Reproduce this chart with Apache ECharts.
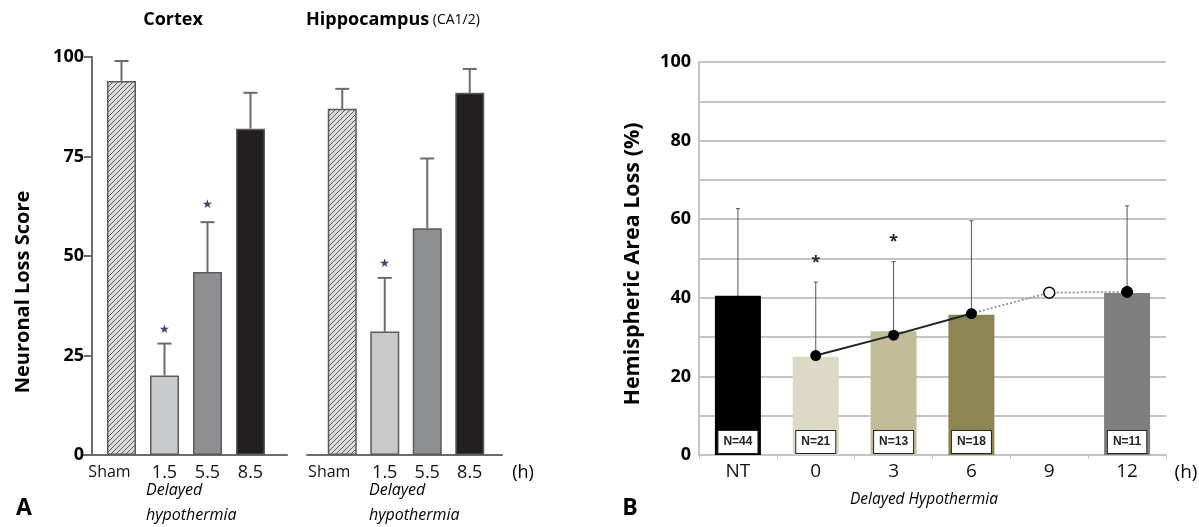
<!DOCTYPE html>
<html>
<head>
<meta charset="utf-8">
<script src="https://cdn.jsdelivr.net/npm/echarts@6/dist/echarts.min.js"></script>
<style>
  html, body { margin: 0; padding: 0; background: #fff; }
  #chart { width: 1199px; height: 527px; }
</style>
</head>
<body>
<div id="chart"></div>
<script>
// Panel A: neuronal loss score
const timeCats = ["Sham", "1.5", "5.5", "8.5"];
const cortexMeans = [94, 20, 46, 82];
const cortexErrTop = [99, 28, 58.5, 91];
const cortexStars = [null, 31.5, 63, null];
const hippoMeans = [87, 31, 57, 91];
const hippoErrTop = [92, 44.5, 74.5, 97];
const hippoStars = [null, 48, null, null];

// Panel B: hemispheric area loss
const delayCats = ["NT", "0", "3", "6", "9", "12"];
const areaMeans = [40.5, 25, 31.5, 35.7, null, 41.2];
const areaErrTop = [62.7, 44, 49.2, 59.6, null, 63.4];
const groupN = [44, 21, 13, 18, null, 11];
const trendValues = [null, 25.3, 30.5, 36, 41.3, 41.5];
const areaStars = [null, 49, 54.3, null, null, null];
const measuredUntil = 3; // index of last measured point on solid line
const openPoint = 4;     // the 9 h point is drawn hollow

const FONT = "'Open Sans', 'DejaVu Sans', sans-serif";
const leftColors = ["hatch", "#c8c9cb", "#8e8f92", "#231f20"];
const rightColors = ["#000000", "#dcd9c6", "#c3bc98", "#8c8553", "#ffffff", "#7f7f7f"];

// diagonal hatch for sham bars
const hatch = document.createElement("canvas");
hatch.width = 5;
hatch.height = 5;
(() => {
    const c = hatch.getContext("2d");
    c.fillStyle = "#dcdcdc";
    c.fillRect(0, 0, 5, 5);
    c.strokeStyle = "#5a5a5a";
    c.lineWidth = 1;
    c.beginPath();
    c.moveTo(-1, 6); c.lineTo(6, -1);
    c.moveTo(-1, 1); c.lineTo(1, -1);
    c.moveTo(4, 6); c.lineTo(6, 4);
    c.stroke();
})();

const leftBarData = (means) => means.map((v, i) => ({
    value: v,
    itemStyle: {
        color: leftColors[i] === "hatch" ? { image: hatch, repeat: "repeat" } : leftColors[i],
    },
}));

const errData = (means, tops) => means
    .map((m, i) => (m == null ? null : [i, m, tops[i]]))
    .filter((d) => d);

const errorSeries = (means, tops, idx, color, width, cap) => ({
    type: "custom",
    xAxisIndex: idx,
    yAxisIndex: idx,
    z: 1,
    data: errData(means, tops),
    renderItem: (params, api) => {
        const p0 = api.coord([api.value(0), api.value(1)]);
        const p1 = api.coord([api.value(0), api.value(2)]);
        const st = { stroke: color, lineWidth: width };
        return {
            type: "group",
            children: [
                { type: "line", shape: { x1: p0[0], y1: p0[1], x2: p1[0], y2: p1[1] }, style: st },
                { type: "line", shape: { x1: p1[0] - cap, y1: p1[1], x2: p1[0] + cap, y2: p1[1] }, style: st },
            ],
        };
    },
});

const starSeries = (stars, idx, glyph, color, size, bold) => ({
    type: "custom",
    xAxisIndex: idx,
    yAxisIndex: idx,
    z: 5,
    data: stars.map((s, i) => (s == null ? null : [i, s])).filter((d) => d),
    renderItem: (params, api) => {
        const p = api.coord([api.value(0), api.value(1)]);
        return {
            type: "text",
            x: p[0],
            y: p[1],
            style: {
                text: glyph, fill: color, font: (bold ? "bold " : "") + size + "px " + FONT,
                align: "center", verticalAlign: "middle",
            },
        };
    },
});

const leftCatAxis = (gridIndex, shamShift) => ({
    type: "category",
    gridIndex,
    data: timeCats.map((c, i) => (i === 0
        ? { value: c, textStyle: { fontSize: 16, padding: [0, shamShift, 0, 0] } }
        : c)),
    axisLine: { show: false },
    axisTick: { show: false },
    axisLabel: { interval: 0, color: "#111", fontSize: 18, fontFamily: FONT, margin: 9 },
});

const plainAxis = (gridIndex) => ({
    type: "value", gridIndex, min: 0, max: 1, show: true,
    axisLabel: { show: false }, axisTick: { show: false }, splitLine: { show: false },
    axisLine: { show: true, lineStyle: { color: "#6b6b6b", width: 2 } },
});

const hiddenY = (gridIndex) => ({
    type: "value", gridIndex, min: 0, max: 1, show: false,
});

const lossAxis = (gridIndex, visible) => ({
    type: "value",
    gridIndex,
    min: 0,
    max: 100,
    interval: 25,
    show: visible,
    offset: 8,
    splitLine: { show: false },
    axisLine: { show: true, lineStyle: { color: "#6b6b6b", width: 2 } },
    axisTick: { show: true, length: 8, lineStyle: { color: "#6b6b6b", width: 2 } },
    axisLabel: { color: "#000", fontWeight: "bold", fontSize: 18, fontFamily: FONT, margin: 8 },
});

const chart = echarts.init(document.getElementById("chart"), null, { width: 1199, height: 527 });

const trendSolid = trendValues.map((v, i) => (i <= measuredUntil ? v : null));
const trendDotted = trendValues.map((v, i) => (i >= measuredUntil ? v : null));
const dottedData = trendDotted.map((v, i) => ({
    value: v,
    symbol: i === measuredUntil ? "none" : "circle",
    itemStyle: i === openPoint
        ? { color: "#fff", borderColor: "#000", borderWidth: 1.5 }
        : { color: "#000", borderColor: "#000" },
}));

const rotText = (text, x, y, size) => ({
    type: "text", x, y, rotation: Math.PI / 2,
    style: {
        text, font: "bold " + size + "px " + FONT, fill: "#000",
        align: "center", verticalAlign: "middle",
    },
});
const txt = (text, x, y, font, align) => ({
    type: "text", x, y,
    style: { text, font: font + " " + FONT, fill: "#000", align: align || "center", verticalAlign: "middle" },
});

const options = {
    animation: false,
    backgroundColor: "#fff",
    grid: [
        { left: 100, width: 172, top: 57, height: 398 },   // cortex bars
        { left: 321, width: 170, top: 57, height: 398 },   // hippocampus bars
        { left: 699, width: 467, top: 62, height: 393 },   // panel B
        { left: 84, width: 203, top: 57, height: 398 },    // cortex baseline
        { left: 307, width: 195, top: 57, height: 398 },   // hippocampus baseline
    ],
    xAxis: [
        leftCatAxis(0, 24),
        leftCatAxis(1, 26),
        {
            type: "category",
            gridIndex: 2,
            data: delayCats,
            axisLine: { show: true, lineStyle: { color: "#c4c4c4", width: 2 } },
            axisTick: { show: true, length: 4, lineStyle: { color: "#c4c4c4", width: 1 } },
            axisLabel: { interval: 0, color: "#111", fontSize: 19, fontFamily: FONT, margin: 7 },
        },
        plainAxis(3),
        plainAxis(4),
    ],
    yAxis: [
        lossAxis(0, true),
        lossAxis(1, false),
        {
            type: "value",
            gridIndex: 2,
            min: 0,
            max: 100,
            interval: 10,
            axisLine: { show: true, lineStyle: { color: "#c4c4c4", width: 2 } },
            axisTick: { show: false },
            splitLine: { show: true, lineStyle: { color: "#c4c4c4", width: 2 } },
            axisLabel: {
                color: "#000", fontWeight: "bold", fontSize: 18, fontFamily: FONT, margin: 8,
                formatter: (v) => (v % 20 === 0 ? String(v) : ""),
            },
        },
        hiddenY(3),
        hiddenY(4),
    ],
    series: [
        errorSeries(cortexMeans, cortexErrTop, 0, "#6b6b6b", 2, 7),
        errorSeries(hippoMeans, hippoErrTop, 1, "#6b6b6b", 2, 7),
        {
            type: "bar", xAxisIndex: 0, yAxisIndex: 0, z: 2, barWidth: 29,
            data: leftBarData(cortexMeans),
            itemStyle: { borderColor: "#5a5a5a", borderWidth: 1.5 },
        },
        {
            type: "bar", xAxisIndex: 1, yAxisIndex: 1, z: 2, barWidth: 29,
            data: leftBarData(hippoMeans),
            itemStyle: { borderColor: "#5a5a5a", borderWidth: 1.5 },
        },
        starSeries(cortexStars, 0, "★", "#34466e", 12, false),
        starSeries(hippoStars, 1, "★", "#34466e", 12, false),
        errorSeries(areaMeans, areaErrTop, 2, "#555", 1, 2),
        {
            type: "bar", xAxisIndex: 2, yAxisIndex: 2, z: 2, barWidth: 46,
            data: areaMeans.map((v, i) => ({
                value: v,
                itemStyle: { color: rightColors[i] },
                label: {
                    show: groupN[i] != null,
                    formatter: "N=" + groupN[i],
                },
            })),
            label: {
                position: "insideBottom", distance: 2,
                color: "#222", fontSize: 12, fontWeight: "bold", fontFamily: "'Liberation Sans', Arial, sans-serif",
                backgroundColor: "#fff", borderColor: "#222", borderWidth: 1, padding: [5, 5, 5, 5],
            },
        },
        {
            type: "line", xAxisIndex: 2, yAxisIndex: 2, z: 4,
            data: dottedData,
            symbolSize: 11,
            lineStyle: { color: "#9a9a9a", width: 2, type: "dotted" },
        },
        {
            type: "line", xAxisIndex: 2, yAxisIndex: 2, z: 5,
            data: trendSolid,
            symbol: "circle",
            symbolSize: 11,
            itemStyle: { color: "#000" },
            lineStyle: { color: "#222", width: 2 },
        },
        starSeries(areaStars, 2, "*", "#222", 16, true),
    ],
    graphic: [
        txt("Cortex", 173, 20, "bold 18px"),
        {
            type: "text", x: 306, y: 20,
            style: {
                text: "{a|Hippocampus}{b| (CA1/2)}",
                rich: {
                    a: { font: "bold 18px " + FONT, fill: "#000" },
                    b: { font: "14px " + FONT, fill: "#000" },
                },
                align: "left", verticalAlign: "middle",
            },
        },
        rotText("Neuronal Loss Score", 23, 292, 20),
        rotText("Hemispheric Area Loss (%)", 633, 264, 21.5),
        txt("(h)", 523, 473, "18px"),
        txt("Delayed", 146, 490, "italic 16px", "left"),
        txt("hypothermia", 146, 515, "italic 16px", "left"),
        txt("Delayed", 369, 490, "italic 16px", "left"),
        txt("hypothermia", 369, 515, "italic 16px", "left"),
        txt("A", 24, 508, "bold 23px"),
        txt("B", 630, 508, "bold 23px"),
        txt("(h)", 1186, 473, "19px"),
        txt("Delayed Hypothermia", 924, 500, "italic 15.5px"),
    ],
};

chart.setOption(options);
</script>
</body>
</html>
